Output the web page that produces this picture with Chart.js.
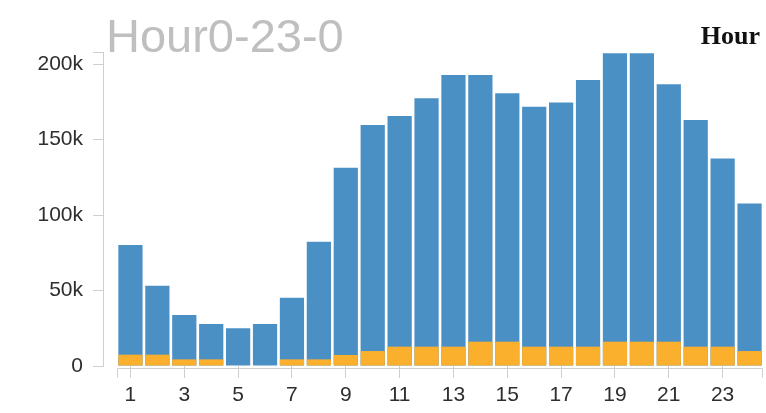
<!DOCTYPE html>
<html>
<head>
<meta charset="utf-8">
<title>Hour0-23-0</title>
<script src="https://cdn.jsdelivr.net/npm/chart.js@4/dist/chart.umd.min.js"></script>
<style>
  html, body { margin: 0; padding: 0; background: #ffffff; }
  #wrap { width: 766px; height: 413px; }
</style>
</head>
<body>
<div id="wrap"><canvas id="chart" width="766" height="413"></canvas></div>
<script>
// Hour of day (1..24)
const hours = [1, 2, 3, 4, 5, 6, 7, 8, 9, 10, 11, 12, 13, 14, 15, 16, 17, 18, 19, 20, 21, 22, 23, 24];
// Total count per hour (blue)
const totalByHour = [80100, 53200, 33800, 27800, 25000, 27800, 45200, 82300, 131300, 159600, 165600, 177300,
                     192700, 192700, 180600, 171700, 174600, 189400, 207100, 207100, 186600, 162900, 137500, 107700];
// Highlighted subset per hour (orange)
const subsetByHour = [7500, 7500, 4400, 4400, 0, 0, 4400, 4400, 7300, 9900, 12800, 12800,
                      12800, 16100, 16100, 12800, 12800, 12800, 16100, 16100, 16100, 12800, 12800, 9900];
// Axis ticks
const xTickValues = [1, 3, 5, 7, 9, 11, 13, 15, 17, 19, 21, 23];
const yTickValues = [0, 50000, 100000, 150000, 200000];
const yDomainMax = 208000;

const chartTitle = 'Hour0-23-0';
const cornerLabel = 'Hour';

const AXIS_GREY = '#cfcfcf';
const TICK_FONT = { family: '"Liberation Sans", Helvetica, Arial, sans-serif', size: 21 };

// Titles and the x-axis domain path (with end ticks), drawn on the canvas
const decorations = {
  id: 'decorations',
  afterDraw(chart) {
    const ctx = chart.ctx;
    const x = chart.scales.x;
    const area = chart.chartArea;
    ctx.save();
    // x-axis domain path from the first band edge to the last
    const x0 = Math.round(x.getPixelForValue(0.5)) + 0.5;
    const x1 = Math.round(x.getPixelForValue(24.5)) - 0.5;
    const yLine = Math.round(area.bottom) + 2.5;
    ctx.strokeStyle = AXIS_GREY;
    ctx.lineWidth = 1;
    ctx.beginPath();
    ctx.moveTo(x0, yLine + 9);
    ctx.lineTo(x0, yLine);
    ctx.lineTo(x1, yLine);
    ctx.lineTo(x1, yLine + 9);
    ctx.stroke();

    // main title
    ctx.fillStyle = '#bfbfbf';
    ctx.font = '47px "Liberation Sans", Helvetica, Arial, sans-serif';
    ctx.textAlign = 'left';
    ctx.textBaseline = 'alphabetic';
    ctx.fillText(chartTitle, 106, 52);

    // corner label
    ctx.fillStyle = '#111111';
    ctx.font = 'bold 26px "Liberation Serif", "Times New Roman", serif';
    ctx.textAlign = 'right';
    ctx.fillText(cornerLabel, 760, 44);
    ctx.restore();
  }
};

new Chart(document.getElementById('chart'), {
  type: 'bar',
  data: {
    datasets: [
      {
        label: 'subset',
        data: hours.map((h, i) => ({ x: h, y: subsetByHour[i] })),
        backgroundColor: '#fab02c',
        order: 1,
        barPercentage: 0.9,
        categoryPercentage: 1.0
      },
      {
        label: 'total',
        data: hours.map((h, i) => ({ x: h, y: totalByHour[i] })),
        backgroundColor: '#4b90c5',
        order: 2,
        barPercentage: 0.9,
        categoryPercentage: 1.0
      }
    ]
  },
  options: {
    responsive: false,
    animation: false,
    events: [],
    layout: { padding: { top: 52, right: 3, bottom: 0, left: 0 } },
    plugins: {
      legend: { display: false },
      title: { display: false },
      tooltip: { enabled: false }
    },
    scales: {
      x: {
        type: 'linear',
        stacked: true,
        offset: false,
        min: -0.02,
        max: 24.5,
        border: { display: false },
        grid: { offset: false, drawOnChartArea: false, drawTicks: true, tickLength: 12, color: AXIS_GREY },
        ticks: {
          color: '#2e2e2e',
          font: TICK_FONT,
          padding: 5,
          maxRotation: 0,
          autoSkip: false,
          callback: (v) => String(v)
        },
        afterBuildTicks(scale) {
          scale.ticks = xTickValues.map(v => ({ value: v }));
        },
        afterFit(scale) { scale.height = 413 - 366; }
      },
      y: {
        type: 'linear',
        stacked: false,
        min: 0,
        max: yDomainMax,
        border: { display: true, color: AXIS_GREY, width: 1 },
        grid: { offset: false, drawOnChartArea: false, drawTicks: true, tickLength: 10, color: AXIS_GREY },
        ticks: {
          color: '#2e2e2e',
          font: TICK_FONT,
          padding: 10,
          autoSkip: false,
          callback: (v) => {
            if (!yTickValues.includes(v)) return '';
            return v === 0 ? '0' : (v / 1000) + 'k';
          }
        },
        afterBuildTicks(scale) {
          scale.ticks = yTickValues.concat([yDomainMax]).map(v => ({ value: v }));
        },
        afterFit(scale) { scale.width = 103; }
      }
    }
  },
  plugins: [decorations]
});
</script>
</body>
</html>
